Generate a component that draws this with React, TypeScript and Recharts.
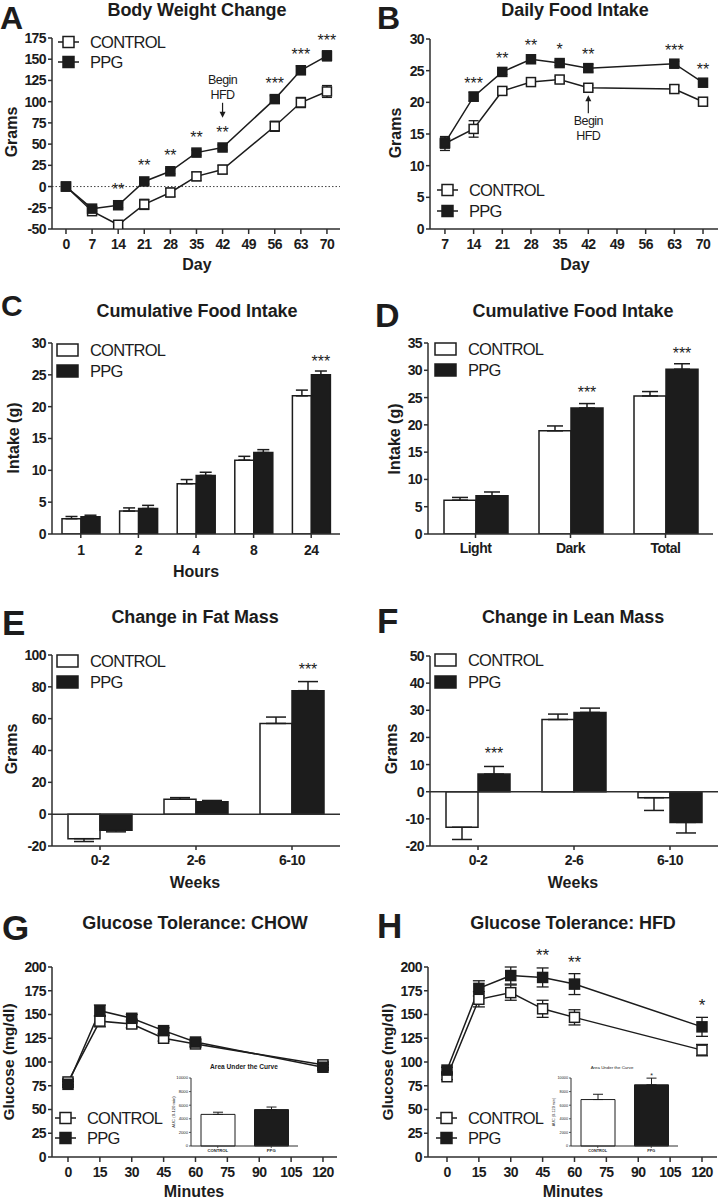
import React from 'react';
import {
  LineChart, Line, BarChart, Bar, Cell, XAxis, YAxis, ErrorBar,
  ReferenceLine, ReferenceDot, LabelList,
} from 'recharts';

const FONT = '"Liberation Sans", Arial, Helvetica, sans-serif';
const INK = '#1c1c1c';
const AXIS = '#2e2e2e';
const WHITE = '#ffffff';

const seriesNames = ['CONTROL', 'PPG'];

// A: Body weight change
const bwDays = [0, 7, 14, 21, 28, 35, 42, 56, 63, 70];
const bwControl = [0, -29, -45, -21, -7, 12, 20, 71, 99, 112];
const bwControlErr = [1, 3, 4, 6, 5, 5, 5, 6, 6, 7];
const bwPPG = [0, -26, -22, 6, 18, 40, 46, 103, 137, 154];
const bwPPGErr = [1, 3, 3, 3, 3, 3, 3, 4, 5, 6];
const bwStars = ['', '', '**', '**', '**', '**', '**', '***', '***', '***'];
const bwDayTicks = [0, 7, 14, 21, 28, 35, 42, 49, 56, 63, 70];
const bwGramTicks = [-50, -25, 0, 25, 50, 75, 100, 125, 150, 175];

// B: Daily food intake
const fiDays = [7, 14, 21, 28, 35, 42, 63, 70];
const fiControl = [13.5, 15.8, 21.8, 23.2, 23.6, 22.3, 22.1, 20.1];
const fiControlErr = [1.1, 1.3, 0.5, 0.6, 0.5, 0.4, 0.5, 0.6];
const fiPPG = [13.6, 20.9, 24.8, 26.8, 26.2, 25.4, 26.1, 23.1];
const fiPPGErr = [0.8, 0.7, 0.4, 0.4, 0.4, 0.6, 0.4, 0.4];
const fiStars = ['', '***', '**', '**', '*', '**', '***', '**'];
const fiDayTicks = [7, 14, 21, 28, 35, 42, 49, 56, 63, 70];
const fiGramTicks = [0, 5, 10, 15, 20, 25, 30];

// HFD annotation (day, arrow tip value)
const hfdDay = 42;
const hfdTipA = 81;
const hfdTipB = 21.1;

// C: Cumulative food intake by hours
const cumHours = ['1', '2', '4', '8', '24'];
const cumControl = [2.4, 3.6, 7.9, 11.6, 21.7];
const cumControlErr = [0.35, 0.5, 0.65, 0.6, 0.9];
const cumPPG = [2.7, 4.0, 9.2, 12.8, 25.0];
const cumPPGErr = [0.25, 0.5, 0.5, 0.45, 0.6];
const cumStars = ['', '', '', '', '***'];
const cumTicks = [0, 5, 10, 15, 20, 25, 30];

// D: Cumulative food intake by phase
const phases = ['Light', 'Dark', 'Total'];
const phaseControl = [6.2, 18.9, 25.3];
const phaseControlErr = [0.5, 0.9, 0.8];
const phasePPG = [7.0, 23.1, 30.2];
const phasePPGErr = [0.7, 0.8, 1.0];
const phaseStars = ['', '***', '***'];
const phaseTicks = [0, 5, 10, 15, 20, 25, 30, 35];

// E: Fat mass
const weekBins = ['0-2', '2-6', '6-10'];
const fatControl = [-15.4, 9.4, 57.0];
const fatControlErr = [1.8, 1.0, 4.0];
const fatPPG = [-10.1, 7.8, 77.6];
const fatPPGErr = [1.0, 0.8, 5.7];
const fatStars = ['', '', '***'];
const fatTicks = [-20, 0, 20, 40, 60, 80, 100];

// F: Lean mass
const leanControl = [-13.1, 26.6, -2.2];
const leanControlErr = [4.5, 2.0, 4.7];
const leanPPG = [6.5, 29.2, -11.3];
const leanPPGErr = [2.8, 1.6, 3.9];
const leanStars = ['***', '', ''];
const leanTicks = [-20, -10, 0, 10, 20, 30, 40, 50];

// G/H: Glucose tolerance
const gttMinutes = [0, 15, 30, 45, 60, 120];
const gttTicks = [0, 15, 30, 45, 60, 75, 90, 105, 120];
const glucoseTicks = [0, 25, 50, 75, 100, 125, 150, 175, 200];
const chowControl = [79, 143, 140, 125, 119, 97];
const chowControlErr = [3, 6, 4, 3, 3, 3];
const chowPPG = [76.5, 154, 146, 133, 121, 94.5];
const chowPPGErr = [3, 6, 4, 3, 3, 3];
const chowStars = ['', '', '', '', '', ''];
const hfdControl = [84.5, 166, 173, 156, 147, 112.5];
const hfdControlErr = [3, 8, 8, 9, 8, 6];
const hfdPPG = [91.5, 177.5, 191, 189, 182, 137];
const hfdPPGErr = [3, 8, 9, 10, 11, 10];
const hfdStars = ['', '', '', '**', '**', '*'];

// AUC insets
const aucGroups = ['CONTROL', 'PPG'];
const aucChow = [4650, 5350];
const aucChowErr = [320, 380];
const aucChowStars = ['', ''];
const aucHfd = [6830, 9000];
const aucHfdErr = [780, 980];
const aucHfdStars = ['', '*'];
const aucTicks = [0, 2000, 4000, 6000, 8000, 10000];

// ---------- table builders ----------
const lineRows = (x: number[], c: number[], ce: number[], p: number[], pe: number[], s: string[]) =>
  x.map((v, i) => ({ x: v, control: c[i], controlErr: ce[i], ppg: p[i], ppgErr: pe[i], stars: s[i] }));

const oneSided = (v: number, e: number) => (v >= 0 ? [0, e] : [e, 0]);

const barRows = (cats: string[], c: number[], ce: number[], p: number[], pe: number[], s: string[]) =>
  cats.map((cat, i) => ({
    cat, control: c[i], controlErr: oneSided(c[i], ce[i]),
    ppg: p[i], ppgErr: oneSided(p[i], pe[i]), stars: s[i],
  }));

const aucRows = (v: number[], e: number[], s: string[]) =>
  aucGroups.map((g, i) => ({ cat: g, value: v[i], err: oneSided(v[i], e[i]), stars: s[i] }));

// ---------- styling helpers ----------
const axisLineStyle = { stroke: AXIS, strokeWidth: 1.5 };
const tickFont = (fontSize = 14, letterSpacing = -0.4, fontWeight = 700) => ({
  fontSize, fontWeight, fill: INK, fontFamily: FONT, letterSpacing,
});

const squareDot = (fill: string, size: number) => (p: any) => {
  const { cx, cy, index } = p;
  if (cx == null || cy == null) return <g key={`n-${index}`} />;
  return (
    <rect key={`sq-${fill}-${index}`} x={cx - size / 2} y={cy - size / 2} width={size} height={size}
      fill={fill} stroke={INK} strokeWidth={1.5} />
  );
};

const starLabel = (lift: number, fontSize = 16) => (p: any) => {
  const vb = p.viewBox || {};
  const x = vb.x ?? p.x;
  const y = vb.y ?? p.y;
  const w = vb.width ?? p.width ?? 0;
  const h = vb.height ?? p.height ?? 0;
  if (!p.value || x == null || y == null) return null;
  const top = Math.min(y, y + h);
  return (
    <text x={x + w / 2} y={top - lift} textAnchor="middle" fontFamily={FONT} fontSize={fontSize} fill={INK}>
      {p.value}
    </text>
  );
};

const hfdNote = (dir: 'down' | 'up') => (p: any) => {
  const { cx, cy } = p;
  if (cx == null || cy == null) return <g />;
  const txt = { textAnchor: 'middle' as const, fontFamily: FONT, fontSize: 12.5, fill: INK, letterSpacing: -0.6 };
  if (dir === 'down') {
    return (
      <g>
        <text x={cx} y={cy - 34} {...txt}>Begin</text>
        <text x={cx} y={cy - 19} {...txt}>HFD</text>
        <line x1={cx} x2={cx} y1={cy - 15} y2={cy - 5} stroke={INK} strokeWidth={1.2} />
        <path d={`M${cx - 3},${cy - 6} L${cx + 3},${cy - 6} L${cx},${cy} Z`} fill={INK} />
      </g>
    );
  }
  return (
    <g>
      <path d={`M${cx - 3},${cy + 6} L${cx + 3},${cy + 6} L${cx},${cy} Z`} fill={INK} />
      <line x1={cx} x2={cx} y1={cy + 5} y2={cy + 18} stroke={INK} strokeWidth={1.2} />
      <text x={cx} y={cy + 30} {...txt}>Begin</text>
      <text x={cx} y={cy + 45} {...txt}>HFD</text>
    </g>
  );
};

// ---------- panels ----------
type M = { top: number; right: number; bottom: number; left: number };

function LinePanel(props: {
  left: number; top: number; width: number; height: number; margin: M; yWidth: number;
  xDomain: number[]; xTicks: number[]; yDomain: number[]; yTicks: number[]; rows: any[];
  marker: number; starLift: number; starSize?: number; errHalf: number; xTickSize?: number;
  extras?: React.ReactNode[]; zeroDotted?: boolean;
}) {
  const { left, top, width, height, margin, yWidth, xDomain, xTicks, yDomain, yTicks, rows,
    marker, starLift, starSize = 16, errHalf, xTickSize = 14, extras = [], zeroDotted } = props;
  return (
    <div style={{ position: 'absolute', left, top }}>
      <LineChart width={width} height={height} data={rows} margin={margin}>
        <XAxis dataKey="x" type="number" domain={xDomain} ticks={xTicks} interval={0} allowDataOverflow
          height={30} tickSize={5} tickMargin={5} axisLine={axisLineStyle} tickLine={axisLineStyle}
          tick={tickFont(xTickSize, -0.6)} />
        <YAxis type="number" domain={yDomain} ticks={yTicks} interval={0} allowDataOverflow width={yWidth}
          tickSize={4} tickMargin={2} axisLine={axisLineStyle} tickLine={axisLineStyle} tick={tickFont(14, -0.6)} />
        {zeroDotted ? <ReferenceLine y={0} stroke="#444" strokeWidth={1} strokeDasharray="1.5 2" /> : null}
        <Line dataKey="control" name={seriesNames[0]} type="linear" stroke={INK} strokeWidth={1.5}
          dot={squareDot(WHITE, marker)} activeDot={false} isAnimationActive={false}>
          <ErrorBar dataKey="controlErr" width={errHalf} stroke={INK} strokeWidth={1.3} />
        </Line>
        <Line dataKey="ppg" name={seriesNames[1]} type="linear" stroke={INK} strokeWidth={1.5}
          dot={squareDot(INK, marker)} activeDot={false} isAnimationActive={false}>
          <ErrorBar dataKey="ppgErr" width={errHalf} stroke={INK} strokeWidth={1.3} />
          <LabelList dataKey="stars" content={starLabel(starLift, starSize)} />
        </Line>
        {extras}
      </LineChart>
    </div>
  );
}

function BarPanel(props: {
  left: number; top: number; width: number; height: number; margin: M; yWidth: number;
  yDomain: number[]; yTicks: number[]; rows: any[]; barSize: number; errHalf: number;
  starLift: number; xTickMargin: number; zeroLine?: boolean;
}) {
  const { left, top, width, height, margin, yWidth, yDomain, yTicks, rows, barSize, errHalf,
    starLift, xTickMargin, zeroLine } = props;
  return (
    <div style={{ position: 'absolute', left, top }}>
      <BarChart width={width} height={height} data={rows} margin={margin} barGap={0}>
        <XAxis dataKey="cat" type="category" interval={0} height={30} tickSize={4} tickMargin={xTickMargin}
          axisLine={axisLineStyle} tickLine={axisLineStyle} tick={tickFont(14, -0.5)} />
        <YAxis type="number" domain={yDomain} ticks={yTicks} interval={0} allowDataOverflow width={yWidth}
          tickSize={4} tickMargin={2} axisLine={axisLineStyle} tickLine={axisLineStyle} tick={tickFont(14, -0.6)} />
        <Bar dataKey="control" name={seriesNames[0]} fill={WHITE} stroke={INK} strokeWidth={1.5}
          barSize={barSize} isAnimationActive={false}>
          <ErrorBar dataKey="controlErr" width={errHalf} stroke={INK} strokeWidth={1.5} />
        </Bar>
        <Bar dataKey="ppg" name={seriesNames[1]} fill={INK} stroke={INK} strokeWidth={1.5}
          barSize={barSize} isAnimationActive={false}>
          <ErrorBar dataKey="ppgErr" width={errHalf} stroke={INK} strokeWidth={1.5} />
          <LabelList dataKey="stars" content={starLabel(starLift)} />
        </Bar>
        {zeroLine ? <ReferenceLine y={0} stroke={AXIS} strokeWidth={1.5} /> : null}
      </BarChart>
    </div>
  );
}

function AucInset(props: { left: number; top: number; rows: any[]; tickFs: number }) {
  const { left, top, rows, tickFs } = props;
  return (
    <div style={{ position: 'absolute', left, top }}>
      <BarChart width={145} height={100} data={rows} margin={{ top: 18, right: 7, bottom: 6, left: 0 }} barGap={0}>
        <XAxis dataKey="cat" type="category" interval={0} height={8} tickSize={2} tickMargin={1}
          axisLine={{ stroke: AXIS, strokeWidth: 1 }} tickLine={{ stroke: AXIS, strokeWidth: 0.8 }}
          tick={tickFont(tickFs, 0, 700)} />
        <YAxis type="number" domain={[0, 10000]} ticks={aucTicks} interval={0} width={31} tickSize={2} tickMargin={1}
          axisLine={{ stroke: AXIS, strokeWidth: 1 }} tickLine={{ stroke: AXIS, strokeWidth: 0.8 }}
          tick={tickFont(tickFs, 0, 400)} />
        <Bar dataKey="value" stroke={INK} strokeWidth={1} barSize={34} isAnimationActive={false}>
          {rows.map((r, i) => <Cell key={r.cat} fill={i === 0 ? WHITE : INK} />)}
          <ErrorBar dataKey="err" width={5} stroke={INK} strokeWidth={1} />
          <LabelList dataKey="stars" content={starLabel(7, 7)} />
        </Bar>
      </BarChart>
    </div>
  );
}

// ---------- overlay text ----------
const T = (p: { x: number; y: number; s: string; size?: number; weight?: number; anchor?: 'start' | 'middle' | 'end'; ls?: number; rot?: boolean }) => (
  <text x={p.x} y={p.y} fontFamily={FONT} fontSize={p.size ?? 16} fontWeight={p.weight ?? 700}
    textAnchor={p.anchor ?? 'middle'} letterSpacing={p.ls ?? 0} fill={INK}
    transform={p.rot ? `rotate(-90 ${p.x} ${p.y})` : undefined}>{p.s}</text>
);

const LineLegend = ({ x, y1, y2 }: { x: number; y1: number; y2: number }) => (
  <g>
    {[y1, y2].map((y, i) => (
      <g key={seriesNames[i]}>
        <line x1={x} x2={x + 21} y1={y} y2={y} stroke={INK} strokeWidth={1.5} />
        <rect x={x + 5} y={y - 5.5} width={11} height={11} fill={i === 0 ? WHITE : INK} stroke={INK} strokeWidth={1.5} />
        <text x={x + 32} y={y} dominantBaseline="central" fontFamily={FONT} fontSize={16.5} letterSpacing={-0.8} fill={INK}>{seriesNames[i]}</text>
      </g>
    ))}
  </g>
);

const BarLegend = ({ x, y1, y2 }: { x: number; y1: number; y2: number }) => (
  <g>
    {[y1, y2].map((y, i) => (
      <g key={seriesNames[i]}>
        <rect x={x} y={y - 6} width={21} height={12} fill={i === 0 ? WHITE : INK} stroke={INK} strokeWidth={1.5} />
        <text x={x + 33} y={y} dominantBaseline="central" fontFamily={FONT} fontSize={16.5} letterSpacing={-0.8} fill={INK}>{seriesNames[i]}</text>
      </g>
    ))}
  </g>
);

export default function App() {
  const bwData = lineRows(bwDays, bwControl, bwControlErr, bwPPG, bwPPGErr, bwStars);
  const fiData = lineRows(fiDays, fiControl, fiControlErr, fiPPG, fiPPGErr, fiStars);
  const chowData = lineRows(gttMinutes, chowControl, chowControlErr, chowPPG, chowPPGErr, chowStars);
  const hfdData = lineRows(gttMinutes, hfdControl, hfdControlErr, hfdPPG, hfdPPGErr, hfdStars);
  const cumData = barRows(cumHours, cumControl, cumControlErr, cumPPG, cumPPGErr, cumStars);
  const phaseData = barRows(phases, phaseControl, phaseControlErr, phasePPG, phasePPGErr, phaseStars);
  const fatData = barRows(weekBins, fatControl, fatControlErr, fatPPG, fatPPGErr, fatStars);
  const leanData = barRows(weekBins, leanControl, leanControlErr, leanPPG, leanPPGErr, leanStars);

  return (
    <div style={{ position: 'absolute', left: 0, top: 0, width: 719, height: 1199, background: '#fff', overflow: 'hidden' }}>
      <LinePanel left={0} top={0} width={360} height={290} margin={{ top: 38, right: 20, bottom: 31, left: 0 }}
        yWidth={52} xDomain={[-3.75, 73.5]} xTicks={bwDayTicks} yDomain={[-50, 175]} yTicks={bwGramTicks}
        rows={bwData} marker={9} starLift={10} errHalf={5} zeroDotted
        extras={[<ReferenceDot key="hfdA" x={hfdDay} y={hfdTipA} r={0} shape={hfdNote('down')} />]} />
      <LinePanel left={360} top={0} width={359} height={290} margin={{ top: 39, right: 1, bottom: 31, left: 0 }}
        yWidth={70} xDomain={[3.35, 73.66]} xTicks={fiDayTicks} yDomain={[0, 30]} yTicks={fiGramTicks}
        rows={fiData} marker={9} starLift={8} errHalf={5}
        extras={[<ReferenceDot key="hfdB" x={hfdDay} y={hfdTipB} r={0} shape={hfdNote('up')} />]} />

      <BarPanel left={0} top={290} width={360} height={300} margin={{ top: 53, right: 20, bottom: 26, left: 0 }}
        yWidth={52} yDomain={[0, 30]} yTicks={cumTicks} rows={cumData} barSize={19} errHalf={6}
        starLift={8} xTickMargin={7} />
      <BarPanel left={360} top={290} width={359} height={300} margin={{ top: 53, right: 6, bottom: 26, left: 0 }}
        yWidth={68} yDomain={[0, 35]} yTicks={phaseTicks} rows={phaseData} barSize={32} errHalf={8}
        starLift={10} xTickMargin={5} />

      <BarPanel left={0} top={590} width={360} height={300} margin={{ top: 65, right: 20, bottom: 14, left: 0 }}
        yWidth={52} yDomain={[-20, 100]} yTicks={fatTicks} rows={fatData} barSize={32} errHalf={10}
        starLift={16} xTickMargin={5} zeroLine />
      <BarPanel left={360} top={590} width={359} height={300} margin={{ top: 66, right: 1, bottom: 14, left: 0 }}
        yWidth={70} yDomain={[-20, 50]} yTicks={leanTicks} rows={leanData} barSize={32} errHalf={10}
        starLift={15} xTickMargin={5} zeroLine />

      <LinePanel left={0} top={890} width={360} height={309} margin={{ top: 77, right: 23, bottom: 12, left: 0 }}
        yWidth={52} xDomain={[-7.53, 126.6]} xTicks={gttTicks} yDomain={[0, 200]} yTicks={glucoseTicks}
        rows={chowData} marker={10} starLift={16} starSize={17} errHalf={6} />
      <LinePanel left={360} top={890} width={359} height={309} margin={{ top: 77, right: 2, bottom: 12, left: 0 }}
        yWidth={68} xDomain={[-8.94, 127.06]} xTicks={gttTicks} yDomain={[0, 200]} yTicks={glucoseTicks}
        rows={hfdData} marker={10} starLift={16} starSize={17} errHalf={6} />

      <AucInset left={160} top={1060} rows={aucRows(aucChow, aucChowErr, aucChowStars)} tickFs={4.2} />
      <AucInset left={540} top={1060} rows={aucRows(aucHfd, aucHfdErr, aucHfdStars)} tickFs={3.8} />

      <svg width={719} height={1199} style={{ position: 'absolute', left: 0, top: 0, pointerEvents: 'none' }}>
        {/* panel letters */}
        <T x={0} y={29} s="A" size={32} anchor="start" />
        <T x={377} y={29} s="B" size={32} anchor="start" />
        <T x={1} y={316} s="C" size={30} anchor="start" />
        <T x={375} y={327} s="D" size={34} anchor="start" />
        <T x={2} y={635} s="E" size={35} anchor="start" />
        <T x={377} y={633} s="F" size={35} anchor="start" />
        <T x={2} y={940} s="G" size={35} anchor="start" />
        <T x={377} y={938} s="H" size={35} anchor="start" />

        {/* titles */}
        <T x={197} y={16} s="Body Weight Change" size={18} ls={-0.1} />
        <T x={575} y={16} s="Daily Food Intake" size={18} ls={-0.1} />
        <T x={197} y={317} s="Cumulative Food Intake" size={18} ls={-0.1} />
        <T x={573} y={317} s="Cumulative Food Intake" size={18} ls={-0.1} />
        <T x={195} y={623} s="Change in Fat Mass" size={18} ls={-0.1} />
        <T x={573} y={623} s="Change in Lean Mass" size={18} ls={-0.1} />
        <T x={195} y={929} s="Glucose Tolerance: CHOW" size={18} ls={-0.1} />
        <T x={573} y={929} s="Glucose Tolerance: HFD" size={18} ls={-0.1} />

        {/* y-axis labels */}
        <T x={17} y={132} s="Grams" rot />
        <T x={401} y={133} s="Grams" rot />
        <T x={19} y={438} s="Intake (g)" rot />
        <T x={400} y={439} s="Intake (g)" rot />
        <T x={17} y={749} s="Grams" rot />
        <T x={397} y={749} s="Grams" rot />
        <T x={14} y={1062} s="Glucose (mg/dl)" size={15.5} rot />
        <T x={393} y={1062} s="Glucose (mg/dl)" size={15.5} rot />

        {/* x-axis labels */}
        <T x={197} y={270} s="Day" />
        <T x={575} y={270} s="Day" />
        <T x={196} y={577} s="Hours" />
        <T x={195} y={888} s="Weeks" />
        <T x={573} y={888} s="Weeks" />
        <T x={194} y={1197} s="Minutes" />
        <T x={573} y={1197} s="Minutes" />

        {/* legends */}
        <LineLegend x={58} y1={42} y2={62} />
        <LineLegend x={437} y1={190} y2={211} />
        <BarLegend x={57} y1={350} y2={371} />
        <BarLegend x={435} y1={349} y2={370} />
        <BarLegend x={57} y1={661} y2={682} />
        <BarLegend x={435} y1={660} y2={682} />
        <LineLegend x={55} y1={1118} y2={1138} />
        <LineLegend x={436} y1={1118} y2={1138} />

        {/* inset titles / labels */}
        <T x={244} y={1069} s="Area Under the Curve" size={6.6} />
        <T x={612} y={1069} s="Area Under the Curve" size={4.4} weight={400} />
        <T x={175} y={1112} s="AUC (0-120 min)" size={4.2} weight={400} rot />
        <T x={555} y={1112} s="AUC (0-120 min)" size={3.8} weight={400} rot />
      </svg>
    </div>
  );
}
